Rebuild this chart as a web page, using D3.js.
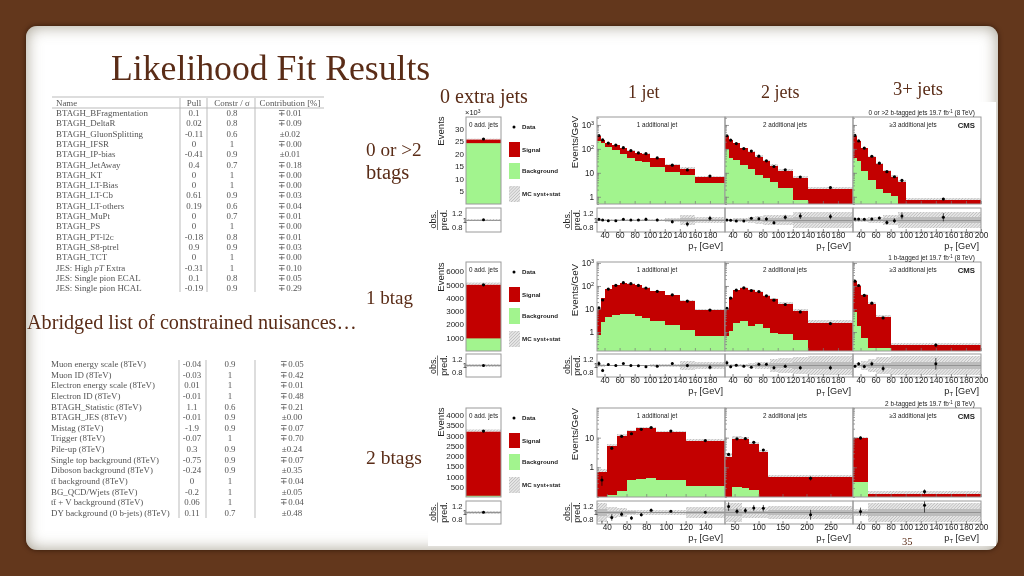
<!DOCTYPE html>
<html><head><meta charset="utf-8">
<script src="https://cdn.jsdelivr.net/npm/d3@7"></script>
<style>
html,body{margin:0;padding:0;width:1024px;height:576px;overflow:hidden;background:#63371c}
#card{position:absolute;left:26px;top:26px;width:972px;height:524px;border-radius:11px;background:#fff;
 box-shadow:inset 0 0 16px rgba(105,95,70,.6),0 0 5px rgba(30,12,0,.7)}
svg{position:absolute;left:0;top:0}
.soft{filter:blur(.5px)}
.plot text{font-family:"Liberation Sans",Arial,sans-serif;fill:#222}
.tbl text{font-family:"Liberation Serif",serif;fill:#555;font-size:8.9px}
.slide text{font-family:"Liberation Serif",serif;fill:#5a2c17}
</style></head><body><div id="card"></div><div id="root"></div>
<script>
// ---------- slide text ----------
const titleText = "Likelihood Fit Results";
const tableHeader = ["Name","Pull","Constr / σ","Contribution [%]"];
const tableNames1 = ["BTAGH_BFragmentation","BTAGH_DeltaR","BTAGH_GluonSplitting","BTAGH_IFSR","BTAGH_IP-bias","BTAGH_JetAway","BTAGH_KT","BTAGH_LT-Bias","BTAGH_LT-Cb","BTAGH_LT-others","BTAGH_MuPt","BTAGH_PS","BTAGH_PT-l2c","BTAGH_S8-ptrel","BTAGH_TCT","JES: High pT Extra","JES: Single pion ECAL","JES: Single pion HCAL"];
const tablePull1 = ["0.1","0.02","-0.11","0","-0.41","0.4","0","0","0.61","0.19","0","0","-0.18","0.9","0","-0.31","0.1","-0.19"];
const tableConstr1 = ["0.8","0.8","0.6","1","0.9","0.7","1","1","0.9","0.6","0.7","1","0.8","0.9","1","1","0.8","0.9"];
const tableContr1 = ["∓0.01","∓0.09","±0.02","∓0.00","±0.01","∓0.18","∓0.00","∓0.00","∓0.03","∓0.04","∓0.01","∓0.00","∓0.01","∓0.03","∓0.00","∓0.10","∓0.05","∓0.29"];
const tableNames2 = ["Muon energy scale (8TeV)","Muon ID (8TeV)","Electron energy scale (8TeV)","Electron ID (8TeV)","BTAGH_Statistic (8TeV)","BTAGH_JES (8TeV)","Mistag (8TeV)","Trigger (8TeV)","Pile-up (8TeV)","Single top background (8TeV)","Diboson background (8TeV)","tt̄ background (8TeV)","BG_QCD/Wjets (8TeV)","tt̄ + V background (8TeV)","DY background (0 b-jets) (8TeV)"];
const tablePull2 = ["-0.04","-0.03","0.01","-0.01","1.1","-0.01","-1.9","-0.07","0.3","-0.75","-0.24","0","-0.2","0.06","0.11"];
const tableConstr2 = ["0.9","1","1","1","0.6","0.9","0.9","1","0.9","0.9","0.9","1","1","1","0.7"];
const tableContr2 = ["∓0.05","∓0.42","∓0.01","∓0.48","∓0.21","±0.00","∓0.07","∓0.70","±0.24","∓0.07","±0.35","∓0.04","±0.05","∓0.04","±0.48"];
const rowHeaders = ["0 or >2 b-tagged jets","1 b-tagged jet","2 b-tagged jets"];
const jetTitles = ["1 additional jet","2 additional jets","≥3 additional jets"];

// ---------- 0 additional jets (events) ----------
const zeroTotal = [25600,4980,3190];
const zeroBkg = [24200,950,60];
const zeroRatio = [1.01,1.0,1.01];
const zeroBand = [0.015,0.035,0.035];
const zeroTop = [34600,6700,4350];

// ---------- row 1: 0 or >2 b-tags ----------
const r1j1Edges=[30,35,40,50,60,70,80,90,100,120,140,160,200];
const r1j1Total=[355,237,178,147,110,85,68,62,42,22,15,7];
const r1j1Bkg=[222,170,125,90,62,42,30,28,18,11,8.5,3.8];
const r1j1Ratio=[1.02,1,0.98,0.98,1.02,1,1,1.02,1,0.95,0.88,1.05];
const r1j1Err=[0.03,0.03,0.02,0.02,0.02,0.03,0.03,0.05,0.04,0.05,0.07,0.07];
const r1j1Band=[0.03,0.03,0.03,0.03,0.03,0.03,0.03,0.04,0.04,0.05,0.14,0.08];
const r1j2Edges=[30,35,40,50,60,70,80,90,100,120,140,200];
const r1j2Total=[355,237,172,106,77,48,31,20,12.5,6,2.2];
const r1j2Bkg=[100,42,35,21,15,8,6,4,2.4,0.75,null];
const r1j2Ratio=[1,0.99,0.97,0.97,1.05,1.04,1.03,0.92,1.08,1.12,1.1];
const r1j2Err=[0.02,0.02,0.02,0.02,0.03,0.04,0.05,0.05,0.07,0.09,0.08];
const r1j2Band=[0.04,0.04,0.05,0.05,0.1,0.12,0.14,0.14,0.16,0.22,0.22];
const r1j3Edges=[30,35,40,50,60,70,80,90,100,200];
const r1j3Total=[355,210,106,48,24,12,7,4.3,0.75];
const r1j3Bkg=[42,30,12.5,4.8,2.2,1.4,1.1,null,null];
const r1j3Ratio=[1.03,1.03,1.02,1.03,1.06,0.93,0.98,1.12,1.08];
const r1j3Err=[0.02,0.02,0.02,0.03,0.04,0.06,0.07,0.1,0.12];
const r1j3Band=[0.05,0.05,0.06,0.08,0.1,0.14,0.16,0.22,0.24];

// ---------- row 2: 1 b-tag ----------
const r2j1Edges=[30,35,40,50,60,70,80,90,100,120,140,160,200];
const r2j1Total=[10.5,29,71,107,131,126,107,85,60,39,22,9.5];
const r2j1Bkg=[0.71,2.6,4.5,5.7,5.9,5.9,5.2,4.1,3,1.95,1.2,0.7];
const r2j1Ratio=[1.06,0.85,1.03,1,1.06,1,0.99,0.96,0.98,1.06,1,0.95];
const r2j1Err=[0.07,0.05,0.03,0.03,0.02,0.02,0.03,0.03,0.03,0.04,0.05,0.07];
const r2j1Band=[0.04,0.04,0.03,0.03,0.03,0.03,0.03,0.03,0.04,0.06,0.13,0.1];
const r2j2Edges=[30,35,40,50,60,70,80,90,100,120,140,200];
const r2j2Total=[10,31,65,85,67,55,36,26,16,8,2.5];
const r2j2Bkg=[0.7,1.1,2.5,3.1,1.8,2.2,1.5,0.9,0.8,0.43,null];
const r2j2Ratio=[1.08,0.96,1.01,0.98,0.95,1.04,1.04,0.93,0.98,0.93,0.93];
const r2j2Err=[0.07,0.04,0.03,0.03,0.03,0.04,0.04,0.05,0.05,0.06,0.07];
const r2j2Band=[0.05,0.05,0.05,0.05,0.08,0.1,0.12,0.2,0.24,0.27,0.28];
const r2j3Edges=[30,35,40,50,60,80,200];
const r2j3Total=[165,100,40,17,4.5,0.26];
const r2j3Bkg=[7.5,1.8,0.55,0.21,0.2,null];
const r2j3Ratio=[0.98,1.05,0.97,1.05,0.91,1.05];
const r2j3Err=[0.03,0.05,0.05,0.07,0.09,0.18];
const r2j3Band=[0.07,0.08,0.14,0.2,0.26,0.3];

// ---------- row 3: 2 b-tags ----------
const r3j1Edges=[30,40,50,60,70,80,90,120,160];
const r3j1Total=[0.68,5.2,11.7,16.3,20.6,20.6,16,7.9];
const r3j1Bkg=[null,0.12,0.165,0.37,0.39,0.43,0.36,0.24];
const r3j1Ratio=[0.55,0.85,0.95,0.83,0.93,1.07,1.04,1.01];
const r3j1Err=[0.2,0.1,0.07,0.06,0.05,0.05,0.03,0.04];
const r3j1Band=[0.3,0.17,0.15,0.09,0.07,0.07,0.07,0.17];
const r3j2Edges=[30,45,65,80,100,120,297];
const r3j2Total=[2.3,8.8,8.8,6.1,3.4,0.46];
const r3j2Bkg=[null,0.21,0.195,0.17,null,null];
const r3j2Ratio=[1.18,1.04,1.06,1.14,1.13,0.93];
const r3j2Err=[0.13,0.08,0.08,0.09,0.1,0.15];
const r3j2Band=[0.3,0.3,0.17,0.17,0.17,0.2];
const r3j3Edges=[30,50,200];
const r3j3Total=[9.5,0.125];
const r3j3Bkg=[0.31,null];
const r3j3Ratio=[1.03,1.22];
const r3j3Err=[0.12,0.22];
const r3j3Band=[0.12,0.3];

const xTicks1=[40,60,80,100,120,140,160,180];
const xTicks3=[40,60,80,100,120,140,160,180,200];
const xTicksR3J1=[40,60,80,100,120,140];
const xTicksR3J2=[50,100,150,200,250];
const xMaxR3=[160,297,200];
const logDomains=[[0.5,2150],[0.15,1100],[0.1,100]];
const logMajor=[[1,10,100,1000],[1,10,100,1000],[1,10]];
const linTicks=[[5000,10000,15000,20000,25000,30000],[1000,2000,3000,4000,5000,6000],[500,1000,1500,2000,2500,3000,3500,4000]];
const ratioTicks=[0.8,1,1.2];
const RED="#c30000",GREEN="#a2f48e",FRAME="#9a9a9a";

// ---------- layout ----------
const rowsY=[[117,204,208,232],[262,351,354,377],[408,497,501,524]];
const zeroX=[466,501];
const jetX=[[597,725],[725,853],[853,981]];
const eventsOffset=[14,15,14];
const perGevOffset=[25,28,26];

const svg=d3.select("#root").append("svg").attr("width",1024).attr("height",576);
const defs=svg.append("defs");
const hatch=defs.append("pattern").attr("id","hatch").attr("width",2.2).attr("height",2.2)
  .attr("patternUnits","userSpaceOnUse").attr("patternTransform","rotate(45)");
hatch.append("rect").attr("width",2.2).attr("height",2.2).attr("fill","#e6e6e6");
hatch.append("line").attr("x1",0).attr("x2",0).attr("y1",0).attr("y2",2.2).attr("stroke","#a9a9a9").attr("stroke-width",0.9);

svg.append("rect").attr("x",428).attr("y",102).attr("width",568).attr("height",444).attr("fill","#fff");

// ---------- tables ----------
const tbl=svg.append("g").attr("class","tbl soft");
function table(names,pull,con,ctr,yFirst,dy,xName,xs){
  const g=tbl.append("g");
  names.forEach((n,i)=>{
    const y=yFirst+i*dy+3;
    const t=g.append("text").attr("x",xName).attr("y",y);
    if(n.includes("pT")){const p=n.split("pT");t.append("tspan").text(p[0]);t.append("tspan").attr("font-style","italic").text("pT");t.append("tspan").text(p[1]);}
    else t.text(n);
    [[pull,xs[0]],[con,xs[1]],[ctr,xs[2]]].forEach(([a,x])=>g.append("text").attr("x",x).attr("y",y).attr("text-anchor","middle").text(a[i]));
  });
}
table(tableNames1,tablePull1,tableConstr1,tableContr1,113,10.3,56,[194,232,290]);
table(tableNames2,tablePull2,tableConstr2,tableContr2,364,10.64,51,[192,230,292]);
tbl.append("text").attr("x",56).attr("y",106).text(tableHeader[0]);
[[194,1],[232,2],[290,3]].forEach(([x,i])=>tbl.append("text").attr("x",x).attr("y",106).attr("text-anchor","middle").text(tableHeader[i]));
[[52,324,97],[52,324,108]].forEach(([a,b,y])=>tbl.append("line").attr("x1",a).attr("x2",b).attr("y1",y).attr("y2",y).attr("stroke","#bbb").attr("stroke-width",1));
[[180,98,292],[207,98,292],[255,98,292],[179,360,518],[206,360,518],[255,360,518]].forEach(([x,a,b])=>tbl.append("line").attr("x1",x).attr("x2",x).attr("y1",a).attr("y2",b).attr("stroke","#bbb").attr("stroke-width",1));

// ---------- plots ----------
const plots=svg.append("g").attr("class","plot soft");
let clipId=0;
function clip(x0,x1,y0,y1){const id="c"+(clipId++);defs.append("clipPath").attr("id",id).append("rect").attr("x",x0).attr("y",y0).attr("width",x1-x0).attr("height",y1-y0);return `url(#${id})`;}
function frame(g,x0,x1,y0,y1){g.append("rect").attr("x",x0).attr("y",y0).attr("width",x1-x0).attr("height",y1-y0).attr("fill","none").attr("stroke",FRAME).attr("stroke-width",1);}

function ratioPanel(g,x,bins,rowY,xTickVals){
  const [,,y0,y1]=rowY, [xa,xb]=x.range();
  const y=d3.scaleLinear().domain([0.65,1.35]).range([y1,y0]);
  const inner=g.append("g").attr("clip-path",clip(xa,xb,y0,y1)).attr("shape-rendering","crispEdges");
  inner.selectAll(".hb").data(bins).join("rect").attr("x",d=>x(d.lo)).attr("width",d=>x(d.hi)-x(d.lo))
    .attr("y",d=>y(1+d.band)).attr("height",d=>y(1-d.band)-y(1+d.band)).attr("fill","url(#hatch)");
  inner.selectAll(".gb").data(bins).join("rect").attr("x",d=>x(d.lo)).attr("width",d=>x(d.hi)-x(d.lo))
    .attr("y",d=>y(1+d.band*0.35)).attr("height",d=>y(1-d.band*0.35)-y(1+d.band*0.35)).attr("fill","#bdbdbd");
  inner.append("line").attr("x1",xa).attr("x2",xb).attr("y1",y(1)).attr("y2",y(1)).attr("stroke","#888").attr("stroke-width",0.8);
  const pts=g.append("g").attr("clip-path",clip(xa,xb,y0,y1));
  pts.selectAll(".e").data(bins).join("line").attr("x1",d=>x(d.mid)).attr("x2",d=>x(d.mid))
    .attr("y1",d=>y(d.ratio-d.err)).attr("y2",d=>y(d.ratio+d.err)).attr("stroke","#111").attr("stroke-width",0.7);
  pts.selectAll(".p").data(bins).join("circle").attr("cx",d=>x(d.mid)).attr("cy",d=>y(d.ratio)).attr("r",1.5).attr("fill","#000");
  frame(g,xa,xb,y0,y1);
  if(xTickVals){
    const ax=d3.axisBottom(x).tickValues(xTickVals).tickFormat(d3.format("d")).tickSize(0).tickPadding(1);
    const a=g.append("g").attr("transform",`translate(0,${y1})`).call(ax);
    a.select(".domain").remove();
    a.selectAll("text").attr("font-size",8.2).attr("fill","#222").attr("dy","0.6em");
    const mt=g.append("g").attr("transform",`translate(0,${y1})`).call(d3.axisTop(x).tickValues(xTickVals).tickFormat("").tickSize(3));
    mt.select(".domain").remove(); mt.selectAll("line").attr("stroke","#888");
  }
  return y;
}
function mainAxisStyle(a){a.select(".domain").remove();a.selectAll("line").attr("stroke","#777").attr("stroke-width",.7);}
function minorLog(domain){const out=[];for(let e=-2;e<4;e++)for(let m=1;m<10;m++){const v=m*Math.pow(10,e);if(v>=domain[0]&&v<=domain[1])out.push(v);}return out;}
function ratioTickLabels(g,yr,xa){
  ratioTicks.forEach(v=>g.append("text").attr("x",v===1?xa+1:xa-3.5).attr("y",yr(v)+2.8).attr("text-anchor","end").attr("font-size",7.6).text(v));
}

function jetPanel(r,j,edges,total,bkg,ratio,err,band,xMax,xTickVals,showY){
  const rowY=rowsY[r],[y0,y1]=rowY,[xa,xb]=jetX[j];
  const g=plots.append("g");
  const x=d3.scaleLinear().domain([30,xMax]).range([xa,xb]);
  const y=d3.scaleLog().domain(logDomains[r]).range([y1,y0]);
  const bins=total.map((t,i)=>({lo:edges[i],hi:edges[i+1],mid:(edges[i]+edges[i+1])/2,total:t,bkg:bkg[i],ratio:ratio[i],err:err[i],band:band[i]}));
  const inner=g.append("g").attr("clip-path",clip(xa,xb,y0,y1)).attr("shape-rendering","crispEdges");
  inner.selectAll(".h").data(bins).join("rect").attr("x",d=>x(d.lo)).attr("width",d=>x(d.hi)-x(d.lo))
    .attr("y",d=>y(d.total*(1+d.band))).attr("height",d=>y(d.total)-y(d.total*(1+d.band))).attr("fill","url(#hatch)");
  inner.selectAll(".s").data(bins).join("rect").attr("x",d=>x(d.lo)).attr("width",d=>x(d.hi)-x(d.lo)+.3)
    .attr("y",d=>y(d.total)).attr("height",d=>y1-y(d.total)).attr("fill",RED);
  inner.selectAll(".b").data(bins.filter(d=>d.bkg!=null)).join("rect").attr("x",d=>x(d.lo)).attr("width",d=>x(d.hi)-x(d.lo)+.3)
    .attr("y",d=>y(d.bkg)).attr("height",d=>y1-y(d.bkg)).attr("fill",GREEN);
  const pts=g.append("g").attr("clip-path",clip(xa,xb,y0,y1));
  pts.selectAll(".d").data(bins).join("circle").attr("cx",d=>x(d.mid)).attr("cy",d=>y(d.total*d.ratio)).attr("r",1.6).attr("fill","#000");
  pts.selectAll(".de").data(bins).join("line").attr("x1",d=>x(d.mid)).attr("x2",d=>x(d.mid))
    .attr("y1",d=>y(d.total*Math.max(d.ratio-d.err,.1))).attr("y2",d=>y(d.total*(d.ratio+d.err))).attr("stroke","#000").attr("stroke-width",.7);
  mainAxisStyle(g.append("g").attr("transform",`translate(${xa},0)`).call(d3.axisRight(y).tickValues(minorLog(logDomains[r])).tickFormat("").tickSize(2)));
  mainAxisStyle(g.append("g").attr("transform",`translate(${xa},0)`).call(d3.axisRight(y).tickValues(logMajor[r]).tickFormat("").tickSize(4)));
  mainAxisStyle(g.append("g").attr("transform",`translate(0,${y1})`).call(d3.axisTop(x).tickValues(xTickVals).tickFormat("").tickSize(3)));
  frame(g,xa,xb,y0,y1);
  if(showY){
    logMajor[r].forEach(v=>{
      const t=g.append("text").attr("x",xa-3).attr("y",y(v)+3).attr("text-anchor","end").attr("font-size",8.2);
      if(v===1||v===10) t.text(v);
      else {t.append("tspan").text("10");t.append("tspan").attr("dy",-3).attr("font-size",5.5).text(Math.log10(v));}
    });
    g.append("text").attr("transform",`translate(578,${y0+perGevOffset[r]}) rotate(-90)`).attr("text-anchor","middle").attr("font-size",9.8).text("Events/GeV");
  }
  g.append("text").attr("x",(xa+xb)/2-4).attr("y",y0+9.5).attr("text-anchor","middle").attr("font-size",6.3).attr("fill","#444").text(jetTitles[j]);
  const yr=ratioPanel(g,x,bins,rowY,xTickVals);
  if(showY){
    ratioTickLabels(g,yr,xa);
    ratioLabel(g,570,580,(rowY[2]+rowY[3])/2);
  }
  const pt=g.append("text").attr("x",xb-2).attr("y",rowY[3]+17).attr("text-anchor","end").attr("font-size",9.2);
  pt.append("tspan").text("p");pt.append("tspan").attr("dy",2).attr("font-size",5.8).text("T");pt.append("tspan").attr("dy",-2).text(" [GeV]");
}
function ratioLabel(g,x1,x2,yc){
  g.append("text").attr("transform",`translate(${x1},${yc}) rotate(-90)`).attr("text-anchor","middle").attr("font-size",9).text("obs.");
  g.append("line").attr("x1",x1+1.5).attr("x2",x1+1.5).attr("y1",yc-10).attr("y2",yc+10).attr("stroke","#222").attr("stroke-width",.6);
  g.append("text").attr("transform",`translate(${x2},${yc}) rotate(-90)`).attr("text-anchor","middle").attr("font-size",9).text("pred.");
}

function zeroPanel(r){
  const rowY=rowsY[r],[y0,y1]=rowY,[xa,xb]=zeroX;
  const g=plots.append("g");
  const x=d3.scaleLinear().domain([0,1]).range([xa,xb]);
  const y=d3.scaleLinear().domain([0,zeroTop[r]]).range([y1,y0]);
  const d={lo:0,hi:1,mid:.5,total:zeroTotal[r],bkg:zeroBkg[r],ratio:zeroRatio[r],err:.01,band:zeroBand[r]};
  g.append("rect").attr("x",xa).attr("width",xb-xa).attr("y",y(d.total*(1+d.band))).attr("height",y(d.total)-y(d.total*(1+d.band))).attr("fill","url(#hatch)");
  g.append("rect").attr("x",xa).attr("width",xb-xa).attr("y",y(d.total)).attr("height",y(0)-y(d.total)).attr("fill",RED);
  g.append("rect").attr("x",xa).attr("width",xb-xa).attr("y",y(d.bkg)).attr("height",y(0)-y(d.bkg)).attr("fill",GREEN);
  g.append("circle").attr("cx",x(.5)).attr("cy",y(d.total*d.ratio)).attr("r",1.6).attr("fill","#000");
  frame(g,xa,xb,y0,y1);
  const a=g.append("g").attr("transform",`translate(${xa},0)`).call(d3.axisLeft(y).tickValues(linTicks[r]).tickSize(0).tickPadding(2).tickFormat(v=>r===0?v/1000:v));
  a.select(".domain").remove();a.selectAll("text").attr("font-size",8).attr("fill","#222");
  g.append("text").attr("transform",`translate(444,${y0+eventsOffset[r]}) rotate(-90)`).attr("text-anchor","middle").attr("font-size",9.6).text("Events");
  g.append("text").attr("x",(xa+xb)/2).attr("y",y0+9.5).attr("text-anchor","middle").attr("font-size",6.3).attr("fill","#444").text("0 add. jets");
  if(r===0){const t=g.append("text").attr("x",465).attr("y",y0-2).attr("font-size",7.5);t.append("tspan").text("×10");t.append("tspan").attr("dy",-2).attr("font-size",5).text("3");}
  const yr=ratioPanel(g,x,[d],rowY,null);
  ratioTickLabels(g,yr,xa);
  ratioLabel(g,436,447,(rowY[2]+rowY[3])/2);
  const t=y0, leg=g.append("g");
  leg.append("circle").attr("cx",514).attr("cy",t+10).attr("r",1.5).attr("fill","#000");
  [["Data",10],["Signal",32.5],["Background",54],["MC syst+stat",77]].forEach(([s,dy])=>leg.append("text").attr("x",522).attr("y",t+dy+2).attr("font-size",6.2).attr("font-weight","bold").attr("fill","#333").text(s));
  [[RED,25,15],[GREEN,46,16],["url(#hatch)",69,16]].forEach(([c,dy,h])=>leg.append("rect").attr("x",509).attr("y",t+dy).attr("width",11).attr("height",h).attr("fill",c));
}
[0,1,2].forEach(zeroPanel);
jetPanel(0,0,r1j1Edges,r1j1Total,r1j1Bkg,r1j1Ratio,r1j1Err,r1j1Band,200,xTicks1,true);
jetPanel(0,1,r1j2Edges,r1j2Total,r1j2Bkg,r1j2Ratio,r1j2Err,r1j2Band,200,xTicks1,false);
jetPanel(0,2,r1j3Edges,r1j3Total,r1j3Bkg,r1j3Ratio,r1j3Err,r1j3Band,200,xTicks3,false);
jetPanel(1,0,r2j1Edges,r2j1Total,r2j1Bkg,r2j1Ratio,r2j1Err,r2j1Band,200,xTicks1,true);
jetPanel(1,1,r2j2Edges,r2j2Total,r2j2Bkg,r2j2Ratio,r2j2Err,r2j2Band,200,xTicks1,false);
jetPanel(1,2,r2j3Edges,r2j3Total,r2j3Bkg,r2j3Ratio,r2j3Err,r2j3Band,200,xTicks3,false);
jetPanel(2,0,r3j1Edges,r3j1Total,r3j1Bkg,r3j1Ratio,r3j1Err,r3j1Band,xMaxR3[0],xTicksR3J1,true);
jetPanel(2,1,r3j2Edges,r3j2Total,r3j2Bkg,r3j2Ratio,r3j2Err,r3j2Band,xMaxR3[1],xTicksR3J2,false);
jetPanel(2,2,r3j3Edges,r3j3Total,r3j3Bkg,r3j3Ratio,r3j3Err,r3j3Band,xMaxR3[2],xTicks3,false);
rowsY.forEach((ry,r)=>{
  const t=plots.append("text").attr("x",975).attr("y",ry[0]-2).attr("text-anchor","end").attr("font-size",6.4).attr("fill","#444");
  t.append("tspan").text(rowHeaders[r]+"    19.7 fb");t.append("tspan").attr("dy",-2).attr("font-size",4.5).text("-1");t.append("tspan").attr("dy",2).text(" (8 TeV)");
  plots.append("text").attr("x",975).attr("y",ry[0]+11).attr("text-anchor","end").attr("font-size",7.8).attr("font-weight","bold").text("CMS");
});

// ---------- slide labels ----------
const slide=svg.append("g").attr("class","slide");
slide.append("text").attr("x",111).attr("y",80).attr("font-size",35.7).text(titleText);
[["0 extra jets",440,103,20],["1 jet",628,98,18],["2 jets",761,98,18],["3+ jets",893,95,18.5],["0 or >2",366,156,19.2],["btags",366,179,20.5],["1 btag",366,304,19],["2 btags",366,464,19.5],["Abridged list of constrained nuisances…",27,329,20.2],["35",902,545,10.5]]
 .forEach(([s,x,y,f])=>slide.append("text").attr("x",x).attr("y",y).attr("font-size",f).text(s));
</script></body></html>
